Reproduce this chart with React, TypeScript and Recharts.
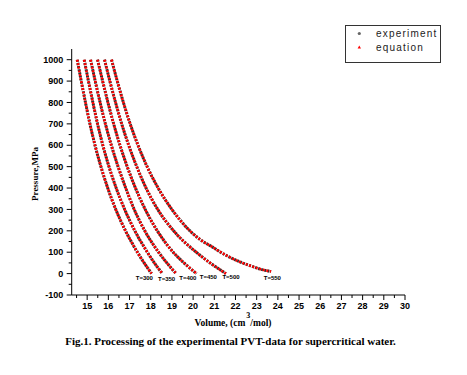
// PVT isotherms of supercritical water — experiment (gray) vs equation (red).
// Origin-style plot: only left/bottom axes, outward major+minor ticks,
// bold little temperature tags at the foot of each curve.

import { ComposedChart, Line, Scatter, XAxis, YAxis } from "recharts";

const INK = "#000000";
const EXP = "#333333"; // experiment — dark gray circles
const EQ = "#ff0000"; // equation — red triangles
const SERIF = "'Liberation Serif', 'Times New Roman', serif";
const SANS = "'Liberation Sans', Arial, sans-serif";

// pressure levels (MPa) read for the five lower isotherms
const pressures = [1000, 900, 800, 700, 600, 500, 400, 300, 200, 100, 50, 0];
// molar volume (cm3/mol) at those pressures
const v300 = [14.53, 14.72, 14.92, 15.13, 15.37, 15.65, 15.97, 16.35, 16.81, 17.37, 17.69, 18.04];
const v350 = [14.86, 15.06, 15.27, 15.49, 15.74, 16.03, 16.37, 16.77, 17.25, 17.84, 18.17, 18.55];
const v400 = [15.16, 15.38, 15.61, 15.86, 16.14, 16.46, 16.82, 17.22, 17.72, 18.37, 18.76, 19.2];
const v450 = [15.49, 15.73, 15.98, 16.25, 16.55, 16.89, 17.28, 17.74, 18.31, 19.06, 19.57, 20.16];
const v500 = [15.82, 16.07, 16.34, 16.63, 16.96, 17.34, 17.78, 18.33, 19.08, 20.15, 20.8, 21.55];
// the 550 isotherm flattens out, so it is read at more low pressures
const p550 = [1000, 900, 800, 700, 600, 500, 400, 300, 200, 160, 125, 100, 78, 55, 35, 20, 10];
const v550 = [16.15, 16.42, 16.71, 17.03, 17.4, 17.83, 18.35, 19.0, 19.85, 20.32, 20.9, 21.3, 21.7, 22.2, 22.75, 23.2, 23.68];

// temperature tags under the curve ends
const tagNames = ["T=300", "T=350", "T=400", "T=450", "T=500", "T=550"];
const tagV = [17.7, 18.75, 19.75, 20.72, 21.79, 23.74];
const tagP = [-19, -26, -21, -16, -14, -19];

const xTicks = Array.from({ length: 32 }, (_, i) => 14.5 + i * 0.5);
const yTicks = Array.from({ length: 23 }, (_, i) => -100 + i * 50);

const zip = (p: number[], v: number[]) => p.map((pp, i) => ({ v: v[i], p: pp }));
const curves = [
  zip(pressures, v300),
  zip(pressures, v350),
  zip(pressures, v400),
  zip(pressures, v450),
  zip(pressures, v500),
  zip(p550, v550),
];
const tags = tagNames.map((name, i) => ({ name, v: tagV[i], p: tagP[i] }));

function XTick(props: any) {
  const { x, y, payload } = props;
  const val = payload.value as number;
  const major = Math.abs(val - Math.round(val)) < 1e-6;
  const y0 = y - 8; // axis line (tickSize 5 + tickMargin 3)
  return (
    <g>
      <line x1={x} x2={x} y1={y0} y2={y0 + (major ? 5 : 3)} stroke={INK} />
      {major && (
        <text x={x} y={y0 + 13.5} textAnchor="middle" fontFamily={SANS} fontWeight="bold" fontSize={9} fill={INK}>
          {val}
        </text>
      )}
    </g>
  );
}

function YTick(props: any) {
  const { x, y, payload } = props;
  const val = payload.value as number;
  const major = val % 100 === 0;
  const x0 = x + 8;
  return (
    <g>
      <line x1={x0 - (major ? 5 : 3)} x2={x0} y1={y} y2={y} stroke={INK} />
      {major && (
        <text x={x0 - 8.4} y={y + 3.2} textAnchor="end" fontFamily={SANS} fontWeight="bold" fontSize={9} fill={INK}>
          {val}
        </text>
      )}
    </g>
  );
}

function Tag(props: any) {
  const { cx, cy, payload } = props;
  return (
    <text x={cx} y={cy + 2} textAnchor="middle" fontFamily={SANS} fontWeight="bold" fontSize={6} fill={INK}>
      {payload.name}
    </text>
  );
}

export default function App() {
  return (
    <div style={{ position: "absolute", left: 0, top: 0, width: 467, height: 375, background: "#fff" }}>
      <ComposedChart
        width={467}
        height={375}
        margin={{ top: 49, right: 62, bottom: 50, left: 31.7 }}
      >
        <XAxis
          dataKey="v"
          type="number"
          domain={[14.27, 30]}
          allowDataOverflow
          ticks={xTicks}
          interval={0}
          tick={<XTick />}
          tickLine={false}
          tickSize={5}
          tickMargin={3}
          height={30}
          axisLine={{ stroke: INK }}
        />
        <YAxis
          dataKey="p"
          type="number"
          domain={[-100, 1050]}
          allowDataOverflow
          ticks={yTicks}
          interval={0}
          tick={<YTick />}
          tickLine={false}
          tickSize={5}
          tickMargin={3}
          width={40}
          axisLine={{ stroke: INK }}
        />
        {curves.map((d, i) => (
          <Line
            key={"exp" + i}
            data={d}
            dataKey="p"
            type="monotone"
            stroke={EXP}
            strokeWidth={3}
            strokeDasharray="2 1.2"
            dot={false}
            isAnimationActive={false}
          />
        ))}
        {curves.map((d, i) => (
          <Line
            key={"eq" + i}
            data={d}
            dataKey="p"
            type="monotone"
            stroke={EQ}
            strokeWidth={2.6}
            strokeDasharray="2 1.6"
            dot={false}
            isAnimationActive={false}
          />
        ))}
        <Scatter data={tags} dataKey="p" shape={<Tag />} isAnimationActive={false} />
      </ComposedChart>

      <svg
        width={467}
        height={375}
        style={{ position: "absolute", left: 0, top: 0, pointerEvents: "none" }}
      >
        {/* legend */}
        <rect x={345.5} y={25.5} width={95} height={37} fill="#fff" stroke="#333" strokeWidth={1} />
        <circle cx={359.3} cy={33.5} r={1.6} fill="#666" />
        <polygon points="359.3,45.6 361,48.6 357.6,48.6" fill={EQ} />
        <text x={376} y={37} fontFamily={SANS} fontSize={10} letterSpacing={1.2} fill="#222">
          experiment
        </text>
        <text x={376} y={51} fontFamily={SANS} fontSize={10} letterSpacing={1.2} fill="#222">
          equation
        </text>

        {/* axis titles */}
        <text
          x={37.5}
          y={174}
          transform="rotate(-90 37.5 174)"
          textAnchor="middle"
          fontFamily={SERIF}
          fontWeight="bold"
          fontSize={9}
          fill={INK}
        >
          Pressure,MPa
        </text>
        <text x={233} y={326} textAnchor="middle" fontFamily={SERIF} fontWeight="bold" fontSize={9.5} fill={INK}>
          Volume, (cm<tspan dx={1} dy={-8} fontSize={8}>3</tspan><tspan dy={8}>/mol)</tspan>
        </text>

        {/* caption */}
        <text x={230.5} y={345} textAnchor="middle" fontFamily={SERIF} fontWeight="bold" fontSize={11} fill={INK}>
          Fig.1. Processing of the experimental PVT-data for supercritical water.
        </text>
      </svg>
    </div>
  );
}
